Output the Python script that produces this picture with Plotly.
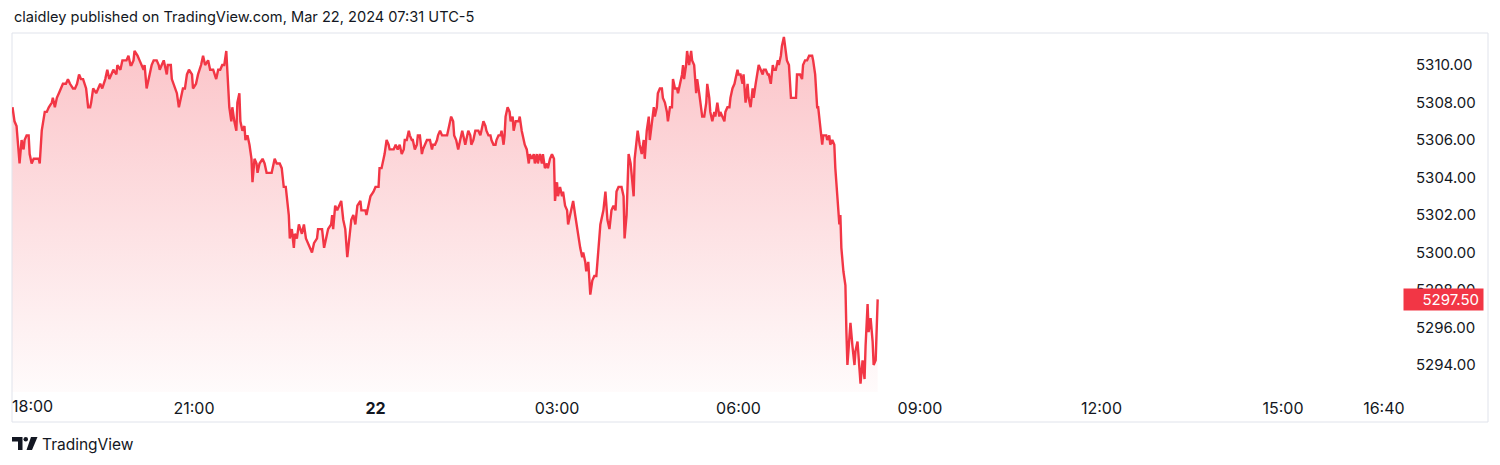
import pandas as pd
import plotly.graph_objects as go

# ---------------- data ----------------
session_open = "2024-03-21 18:00"
minutes_from_open = [
    0, 2, 4, 7, 9, 11, 12, 14, 16, 17, 19, 21, 26, 27, 29, 32, 34, 36, 39, 40,
    42, 44, 46, 48, 50, 53, 55, 57, 60, 62, 64, 66, 68, 70, 73, 75, 77, 78, 80, 83,
    85, 87, 89, 92, 94, 96, 98, 100, 103, 104, 107, 109, 111, 113, 115, 117, 118, 120, 121, 124,
    126, 128, 130, 131, 133, 136, 138, 140, 143, 145, 146, 148, 150, 151, 153, 154, 157, 158, 161, 163,
    165, 167, 169, 171, 173, 175, 178, 179, 182, 184, 187, 189, 191, 194, 196, 199, 202, 204, 206, 208,
    210, 212, 214, 215, 217, 218, 220, 222, 223, 225, 226, 228, 230, 231, 233, 235, 237, 238, 240, 242,
    243, 245, 248, 250, 252, 257, 260, 262, 265, 267, 269, 271, 272, 274, 275, 277, 279, 280, 282, 284,
    287, 289, 291, 293, 297, 299, 302, 303, 307, 309, 311, 313, 316, 317, 318, 320, 322, 324, 326, 328,
    330, 332, 334, 336, 338, 340, 342, 345, 346, 350, 351, 353, 355, 358, 360, 363, 364, 366, 368, 369,
    371, 373, 374, 376, 378, 380, 382, 384, 386, 388, 389, 391, 393, 394, 396, 397, 399, 401, 402, 404,
    406, 407, 409, 411, 414, 416, 417, 419, 421, 422, 424, 426, 427, 429, 431, 433, 435, 437, 438, 440,
    442, 444, 446, 447, 449, 450, 452, 454, 455, 457, 459, 462, 464, 465, 467, 469, 470, 472, 474, 475,
    477, 479, 480, 482, 484, 485, 487, 488, 489, 491, 493, 494, 496, 497, 499, 502, 503, 505, 507, 508,
    510, 512, 513, 515, 517, 518, 520, 521, 523, 525, 526, 528, 530, 531, 533, 535, 537, 538, 540, 541,
    543, 545, 546, 548, 550, 551, 553, 555, 556, 558, 560, 561, 563, 565, 566, 568, 569, 571, 573, 575,
    577, 579, 581, 583, 586, 588, 590, 592, 594, 596, 598, 599, 601, 604, 606, 607, 609, 611, 613, 616,
    617, 618, 620, 622, 624, 626, 627, 629, 631, 632, 634, 636, 637, 639, 640, 642, 644, 645, 647, 649,
    650, 652, 654, 655, 657, 659, 660, 662, 664, 665, 666, 668, 669, 671, 673, 674, 676, 678, 679, 681,
    683, 684, 686, 688, 689, 691, 692, 694, 696, 697, 699, 701, 702, 704, 706, 707, 709, 711, 712, 714,
    716, 717, 719, 720, 722, 724, 725, 727, 729, 730, 732, 734, 735, 737, 739, 740, 742, 744, 745, 747,
    749, 750, 752, 754, 755, 757, 759, 760, 762, 763, 765, 767, 768, 770, 771, 772, 777, 778, 781, 783,
    784, 786, 788, 790, 793, 794, 796, 798, 799, 800, 802, 803, 804, 807, 808, 810, 811, 813, 815, 816,
    818, 820, 821, 822, 824, 826, 827, 828, 830, 831, 833, 835, 836, 838, 840, 841, 843, 845, 846, 848,
    849, 851, 853, 854, 856, 858,
]
prices = [
    5307.75, 5307.0, 5306.75, 5304.75, 5306.0, 5305.5, 5306.0, 5306.25, 5306.25, 5305.25,
    5304.75, 5305.0, 5305.0, 5304.75, 5306.5, 5307.5, 5307.5, 5307.75, 5308.0, 5308.25,
    5307.75, 5308.25, 5308.5, 5308.75, 5309.0, 5309.0, 5309.25, 5309.0, 5308.75, 5308.75,
    5309.0, 5309.5, 5309.25, 5309.25, 5308.75, 5307.75, 5307.75, 5308.0, 5308.75, 5308.5,
    5308.75, 5309.0, 5308.75, 5309.25, 5309.75, 5309.25, 5309.5, 5309.75, 5309.5, 5310.0,
    5309.75, 5310.25, 5310.25, 5310.25, 5310.5, 5310.0, 5310.0, 5310.25, 5310.75, 5310.5,
    5310.25, 5310.0, 5309.75, 5310.0, 5308.75, 5309.5, 5310.0, 5310.25, 5310.25, 5310.0,
    5309.75, 5310.0, 5310.25, 5310.0, 5309.5, 5310.0, 5310.0, 5309.25, 5308.75, 5308.5,
    5307.75, 5308.25, 5308.75, 5308.75, 5309.5, 5309.75, 5309.5, 5308.75, 5309.0, 5309.5,
    5310.0, 5310.5, 5310.0, 5310.25, 5309.75, 5309.75, 5309.25, 5309.75, 5309.75, 5310.0,
    5310.0, 5310.75, 5309.0, 5307.75, 5307.0, 5307.75, 5307.0, 5306.5, 5308.0, 5308.5,
    5307.0, 5306.5, 5306.75, 5306.0, 5306.25, 5305.75, 5305.0, 5303.75, 5305.0, 5304.75,
    5304.25, 5304.75, 5305.0, 5304.75, 5304.25, 5304.25, 5305.0, 5304.75, 5304.75, 5304.5,
    5303.5, 5303.5, 5303.0, 5302.0, 5300.75, 5301.25, 5300.25, 5301.0, 5300.75, 5301.5,
    5301.0, 5301.5, 5300.75, 5300.5, 5300.0, 5300.5, 5300.75, 5301.25, 5301.25, 5300.25,
    5300.75, 5301.25, 5301.5, 5302.0, 5301.25, 5302.5, 5302.25, 5302.5, 5302.75, 5301.75,
    5301.25, 5299.75, 5300.75, 5301.75, 5302.0, 5301.5, 5302.5, 5302.75, 5302.25, 5302.25,
    5302.0, 5302.5, 5303.0, 5303.25, 5303.5, 5303.5, 5304.5, 5304.5, 5305.0, 5305.25,
    5306.0, 5305.75, 5305.5, 5305.5, 5305.5, 5305.75, 5305.5, 5305.75, 5305.25, 5305.5,
    5306.0, 5306.0, 5306.5, 5306.25, 5306.0, 5306.0, 5305.5, 5305.75, 5306.25, 5306.25,
    5305.25, 5305.5, 5305.75, 5306.0, 5306.0, 5305.5, 5305.75, 5305.75, 5306.0, 5306.25,
    5306.5, 5306.25, 5306.25, 5306.25, 5306.25, 5306.75, 5307.25, 5307.0, 5306.25, 5306.0,
    5305.5, 5306.0, 5306.5, 5306.25, 5305.75, 5306.0, 5306.5, 5306.25, 5305.75, 5306.0,
    5306.5, 5306.5, 5306.25, 5306.5, 5307.0, 5306.75, 5306.5, 5306.25, 5306.25, 5306.0,
    5305.75, 5305.75, 5306.0, 5306.25, 5306.25, 5306.5, 5305.75, 5306.25, 5307.25, 5307.75,
    5307.5, 5307.0, 5307.25, 5306.5, 5307.0, 5307.0, 5307.25, 5306.5, 5306.0, 5305.75,
    5305.5, 5304.75, 5305.25, 5305.0, 5305.25, 5304.75, 5305.25, 5304.75, 5305.25, 5304.75,
    5305.25, 5304.5, 5304.75, 5304.5, 5305.0, 5305.25, 5305.0, 5302.75, 5303.75, 5303.0,
    5303.5, 5303.0, 5303.25, 5302.5, 5302.25, 5301.5, 5302.0, 5302.5, 5302.75, 5302.0,
    5301.25, 5301.0, 5300.25, 5299.75, 5300.0, 5299.5, 5299.0, 5299.5, 5297.75, 5298.5,
    5298.75, 5298.75, 5300.25, 5301.5, 5302.25, 5303.25, 5301.75, 5301.25, 5302.25, 5302.5,
    5302.25, 5303.25, 5303.5, 5303.5, 5303.0, 5300.75, 5302.0, 5305.25, 5304.75, 5303.0,
    5305.0, 5305.5, 5306.5, 5305.75, 5305.25, 5306.0, 5305.0, 5306.5, 5307.25, 5306.0,
    5307.0, 5307.75, 5307.25, 5307.75, 5308.5, 5308.75, 5308.75, 5308.25, 5308.0, 5307.5,
    5307.0, 5307.75, 5307.75, 5309.25, 5308.75, 5308.75, 5308.5, 5309.0, 5309.5, 5310.0,
    5309.25, 5310.0, 5310.75, 5310.0, 5310.75, 5310.25, 5310.0, 5308.5, 5309.25, 5308.5,
    5307.75, 5307.25, 5307.25, 5308.0, 5309.0, 5308.25, 5307.5, 5307.0, 5307.5, 5307.25,
    5308.0, 5307.25, 5307.5, 5307.25, 5307.0, 5307.5, 5307.75, 5307.75, 5308.25, 5308.75,
    5309.0, 5309.25, 5309.75, 5309.5, 5309.5, 5309.0, 5309.5, 5308.0, 5309.0, 5308.25,
    5307.75, 5308.75, 5308.25, 5309.0, 5309.75, 5310.0, 5309.75, 5309.5, 5309.75, 5309.75,
    5309.5, 5309.5, 5309.0, 5310.0, 5309.75, 5309.75, 5310.25, 5310.0, 5310.5, 5311.0,
    5311.5, 5310.75, 5310.25, 5310.0, 5309.25, 5308.25, 5308.25, 5309.5, 5309.5, 5309.25,
    5310.0, 5310.25, 5310.25, 5310.5, 5310.5, 5310.25, 5309.5, 5307.75, 5307.75, 5307.25,
    5306.25, 5305.75, 5306.25, 5306.25, 5306.0, 5306.25, 5305.75, 5306.0, 5305.75, 5304.5,
    5303.0, 5301.5, 5302.0, 5300.25, 5299.0, 5298.25, 5295.75, 5294.0, 5295.5, 5296.25,
    5295.0, 5294.0, 5294.75, 5295.25, 5293.75, 5293.0, 5294.25, 5293.25, 5295.0, 5297.25,
    5295.75, 5296.5, 5295.25, 5294.0, 5294.25, 5297.5,
]
time_tick_values = [
    "2024-03-21 21:00", "2024-03-22 00:00", "2024-03-22 03:00", "2024-03-22 06:00",
    "2024-03-22 09:00", "2024-03-22 12:00", "2024-03-22 15:00", "2024-03-22 16:40",
]
time_tick_labels = ["21:00", "<b>22</b>", "03:00", "06:00", "09:00", "12:00", "15:00", "16:40"]
first_time_label = "18:00"
view_start = "2024-03-21 17:59:30"
view_end = "2024-03-22 16:56:00"
price_view = [5292.56, 5311.71]
price_tick_step = 2
price_tick_base = 5294
title_text = "claidley published on TradingView.com, Mar 22, 2024 07:31 UTC-5"
brand_text = "TradingView"

# ---------------- styling ----------------
RED = "#F23645"
TEXT = "#131722"
FONT = "Inter"
OFF = 8                      # page body margin of the HTML output
W, H = 1484, 449
ML, MR, MT, MB = 4, 92, 25, 65
PW, PH = W - ML - MR, H - MT - MB


def px(xp):
    """screen x (reference pixels) -> paper x"""
    return (xp - OFF - ML) / PW


def py(yp):
    """screen y (reference pixels) -> paper y"""
    return (H - MB - (yp - OFF)) / PH


times = pd.Timestamp(session_open) + pd.to_timedelta(minutes_from_open, unit="min")

fig = go.Figure()
fig.add_trace(go.Scatter(
    x=times, y=prices, mode="lines",
    line=dict(color=RED, width=2.4),
    fill="tozeroy",
    fillgradient=dict(
        type="vertical",
        start=price_view[0], stop=price_view[1],
        colorscale=[[0, "rgba(242,54,69,0.02)"], [1, "rgba(242,54,69,0.30)"]],
    ),
    hoverinfo="skip",
))

fig.update_layout(
    width=W, height=H,
    margin=dict(l=ML, r=MR, t=MT, b=MB),
    paper_bgcolor="white", plot_bgcolor="white",
    showlegend=False,
    font=dict(family=FONT, color=TEXT, size=14),
    xaxis=dict(
        range=[view_start, view_end],
        tickmode="array", tickvals=time_tick_values, ticktext=time_tick_labels,
        showgrid=False, zeroline=False, showline=False, ticks="",
        tickfont=dict(family=FONT, size=16, color=TEXT),
        ticklabelstandoff=5,
    ),
    yaxis=dict(
        range=price_view, side="right",
        tick0=price_tick_base, dtick=price_tick_step, tickformat=".2f",
        showgrid=False, zeroline=False, showline=False, ticks="",
        tickfont=dict(family=FONT, size=15, color=TEXT),
        ticklabelstandoff=15,
    ),
)

shapes = [
    # chart frame
    dict(type="rect", xref="paper", yref="paper",
         x0=px(12), x1=px(1488), y0=py(422), y1=py(33),
         line=dict(color="#E0E3EB", width=1), fillcolor="rgba(0,0,0,0)", layer="below"),
    # TradingView logo: "T" part
    dict(type="path", xref="paper", yref="paper",
         path=f"M{px(12)},{py(437)} L{px(22.5)},{py(437)} L{px(22.5)},{py(450)} L{px(18)},{py(450)} "
              f"L{px(18)},{py(441.5)} L{px(12)},{py(441.5)} Z",
         fillcolor=TEXT, line=dict(width=0)),
    dict(type="circle", xref="paper", yref="paper",
         x0=px(23.5), x1=px(28), y0=py(441.5), y1=py(437),
         fillcolor=TEXT, line=dict(width=0)),
    dict(type="path", xref="paper", yref="paper",
         path=f"M{px(31)},{py(437)} L{px(37.5)},{py(437)} L{px(32)},{py(450)} L{px(26.5)},{py(450)} Z",
         fillcolor=TEXT, line=dict(width=0)),
]
fig.update_layout(shapes=shapes)

annotations = [
    dict(text=title_text, xref="paper", yref="paper", x=px(12), y=py(17),
         xanchor="left", yanchor="middle", showarrow=False,
         font=dict(family=FONT, size=14.6, color=TEXT)),
    dict(text=brand_text, xref="paper", yref="paper", x=px(40), y=py(444),
         xanchor="left", yanchor="middle", showarrow=False,
         font=dict(family=FONT, size=15.5, color=TEXT)),
    dict(text=first_time_label, xref="x", yref="paper", x=session_open, y=py(406),
         xanchor="left", yanchor="middle", showarrow=False, xshift=-3,
         font=dict(family=FONT, size=16, color=TEXT)),
    dict(text=f"{prices[-1]:.2f}", xref="paper", yref="y", x=px(1403), y=prices[-1],
         xanchor="left", yanchor="middle", showarrow=False,
         bgcolor=RED, borderpad=4, width=71, height=13, align="right",
         font=dict(family=FONT, size=15, color="white")),
]
fig.update_layout(annotations=annotations)

fig.write_html("out.html")
